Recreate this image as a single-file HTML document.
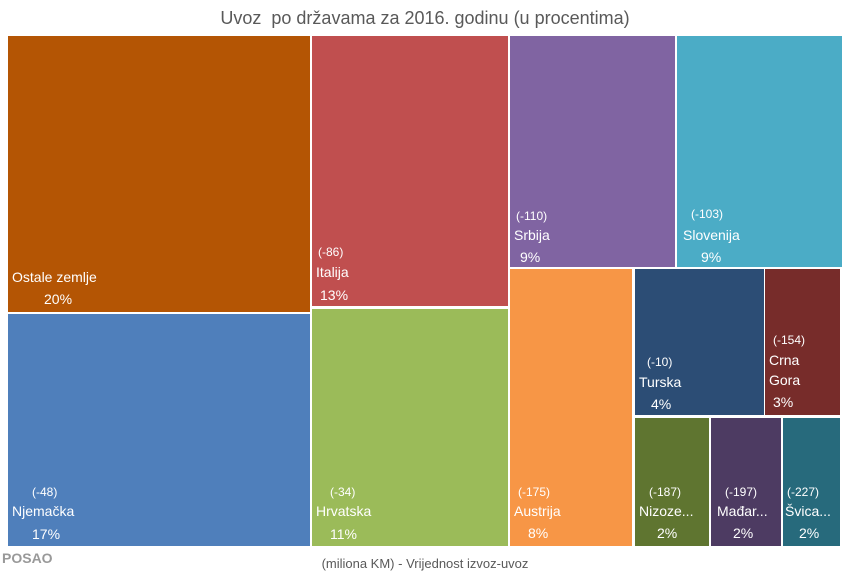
<!DOCTYPE html>
<html><head><meta charset="utf-8"><style>
body{margin:0;width:850px;height:579px;background:#fff;position:relative;overflow:hidden;font-family:"Liberation Sans",sans-serif;}
.t{position:absolute;left:0;width:850px;text-align:center;color:#595959;}
.r{position:absolute;color:#fff;font-size:14px;line-height:20px;}
.r span{position:absolute;white-space:nowrap;}
.s{font-size:12px;}
</style></head><body>
<div class="t" style="top:8px;font-size:18px;">Uvoz&nbsp; po državama za 2016. godinu (u procentima)</div>
<div class="r" style="left:8px;top:36px;width:302px;height:276px;background:#b45504"><span style="left:4px;top:231px">Ostale zemlje</span><span style="left:36px;top:253px">20%</span></div>
<div class="r" style="left:8px;top:314px;width:302px;height:232px;background:#4f7fbb"><span class="s" style="left:24px;top:168px">(-48)</span><span style="left:4px;top:187px">Njemačka</span><span style="left:24px;top:210px">17%</span></div>
<div class="r" style="left:312px;top:36px;width:196px;height:270px;background:#c04f4f"><span class="s" style="left:6px;top:206px">(-86)</span><span style="left:4px;top:226px">Italija</span><span style="left:8px;top:249px">13%</span></div>
<div class="r" style="left:312px;top:309px;width:196px;height:237px;background:#9bbb59"><span class="s" style="left:18px;top:173px">(-34)</span><span style="left:4px;top:192px">Hrvatska</span><span style="left:18px;top:215px">11%</span></div>
<div class="r" style="left:510px;top:36px;width:165px;height:231px;background:#8064a2"><span class="s" style="left:6px;top:170px">(-110)</span><span style="left:4px;top:189px">Srbija</span><span style="left:10px;top:211px">9%</span></div>
<div class="r" style="left:677px;top:36px;width:165px;height:231px;background:#4bacc6"><span class="s" style="left:14px;top:168px">(-103)</span><span style="left:6px;top:189px">Slovenija</span><span style="left:24px;top:211px">9%</span></div>
<div class="r" style="left:510px;top:269px;width:122px;height:277px;background:#f79646"><span class="s" style="left:8px;top:213px">(-175)</span><span style="left:4px;top:232px">Austrija</span><span style="left:18px;top:254px">8%</span></div>
<div class="r" style="left:635px;top:269px;width:129px;height:146px;background:#2c4d75"><span class="s" style="left:12px;top:83px">(-10)</span><span style="left:4px;top:103px">Turska</span><span style="left:16px;top:125px">4%</span></div>
<div class="r" style="left:765px;top:269px;width:75px;height:146px;background:#772c2a"><span class="s" style="left:8px;top:61px">(-154)</span><span style="left:4px;top:81px">Crna</span><span style="left:4px;top:101px">Gora</span><span style="left:8px;top:123px">3%</span></div>
<div class="r" style="left:635px;top:418px;width:74px;height:128px;background:#5f7530"><span class="s" style="left:14px;top:64px">(-187)</span><span style="left:4px;top:83px">Nizoze...</span><span style="left:22px;top:105px">2%</span></div>
<div class="r" style="left:711px;top:418px;width:70px;height:128px;background:#4d3b62"><span class="s" style="left:14px;top:64px">(-197)</span><span style="left:6px;top:83px">Mađar...</span><span style="left:22px;top:105px">2%</span></div>
<div class="r" style="left:783px;top:418px;width:57px;height:128px;background:#276a7c"><span class="s" style="left:4px;top:64px">(-227)</span><span style="left:2px;top:83px">Švica...</span><span style="left:16px;top:105px">2%</span></div>
<div class="t" style="top:556px;font-size:13px;">(miliona KM) - Vrijednost izvoz-uvoz</div>
<div style="position:absolute;left:2px;top:550px;font-size:14px;color:#999;font-weight:bold;">POSAO</div>
</body></html>
